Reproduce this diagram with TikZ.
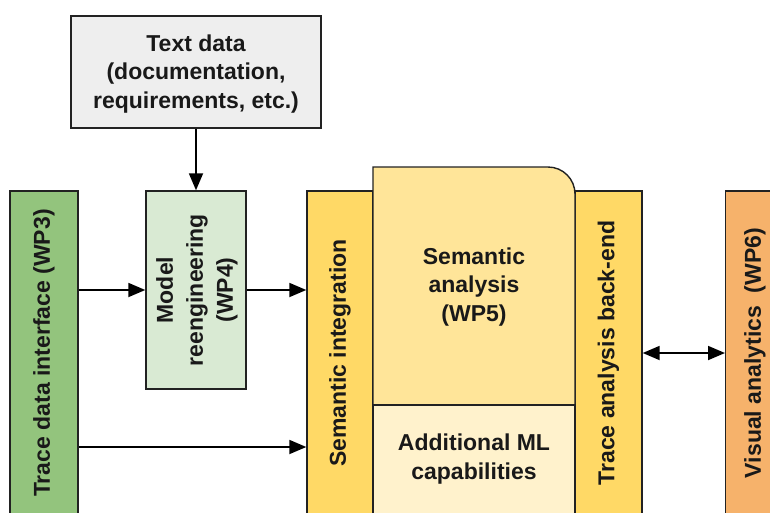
\documentclass[tikz,border=0pt]{standalone}
\usepackage{fontspec}
\setmainfont{Liberation Sans}
\usetikzlibrary{arrows.meta}
\definecolor{tdgreen}{HTML}{93C47D}
\definecolor{mrgreen}{HTML}{D9EAD3}
\definecolor{txgray}{HTML}{EEEEEE}
\definecolor{siyellow}{HTML}{FFD966}
\definecolor{sayellow}{HTML}{FFE599}
\definecolor{mlyellow}{HTML}{FFF2CC}
\definecolor{vaorange}{HTML}{F6B26B}
\definecolor{edge}{HTML}{222222}
\tikzset{
  box/.style={draw=edge, line width=1.4pt, inner sep=0pt},
  lbl/.style={font=\bfseries\fontsize{23}{28.5}\selectfont, align=center, text=black!90},
  flow/.style={line width=1.8pt, -{Triangle[length=17pt,width=14pt]}},
  both/.style={line width=1.8pt, {Triangle[length=17pt,width=14pt]}-{Triangle[length=17pt,width=14pt]}}
}
\begin{document}
\begin{tikzpicture}[x=1pt,y=-1pt]
\useasboundingbox (0,0) rectangle (770,512);
\fill[white] (0,0) rectangle (770,512);
\clip (0,0) rectangle (770,512);

% source text data
\node[box, fill=txgray, minimum width=250pt, minimum height=112pt] (td) at (196,72) {};
\node[lbl] at (196,74) {Text data\\(documentation,\\requirements, etc.)};

% tall column boxes (running off the lower edge)
\node[box, fill=tdgreen, minimum width=68pt, minimum height=324pt] (tdi) at (44,353) {};
\node[lbl, rotate=90] at (tdi) {Trace data interface (WP3)};

\node[box, fill=mrgreen, minimum width=100pt, minimum height=198pt] (mr) at (196,290) {};
\node[lbl, rotate=90, font=\bfseries\fontsize{23}{30}\selectfont] at (197,290) {Model\\reengineering\\(WP4)};

\node[box, fill=siyellow, minimum width=66pt, minimum height=324pt] (si) at (340,353) {};
\node[lbl, rotate=90] at (si) {Semantic integration};

\node[box, fill=siyellow, minimum width=67pt, minimum height=324pt] (tab) at (608.5,353) {};
\node[lbl, rotate=90] at (tab) {Trace analysis back-end};

\node[box, fill=vaorange, minimum width=80pt, minimum height=324pt, anchor=west] (va) at (725,353) {};
\node[lbl, rotate=90] at (755,353) {Visual analytics~~(WP6)};

% semantic analysis block with rounded upper right corner
\draw[box, fill=sayellow] (373,405) -- (373,167) -- (548,167)
  arc[start angle=-90, end angle=0, radius=27] -- (575,405) -- cycle;
\node[lbl] (sa) at (474,287) {Semantic\\analysis\\(WP5)};
\draw[box, fill=mlyellow] (373,405) -- (575,405) -- (575,530) -- (373,530) -- cycle;
\node[lbl] (ml) at (474,459) {Additional ML\\capabilities};

% connectors
\coordinate (low) at (0,447);
\draw[flow] (td.south) -- (mr.north);
\draw[flow] (tdi.east |- mr.west) -- (mr.west);
\draw[flow] (mr.east) -- (si.west |- mr.east);
\draw[flow] (tdi.east |- low) -- (si.west |- low);
\draw[both] (tab.east |- va.west) -- (va.west);
\end{tikzpicture}
\end{document}
